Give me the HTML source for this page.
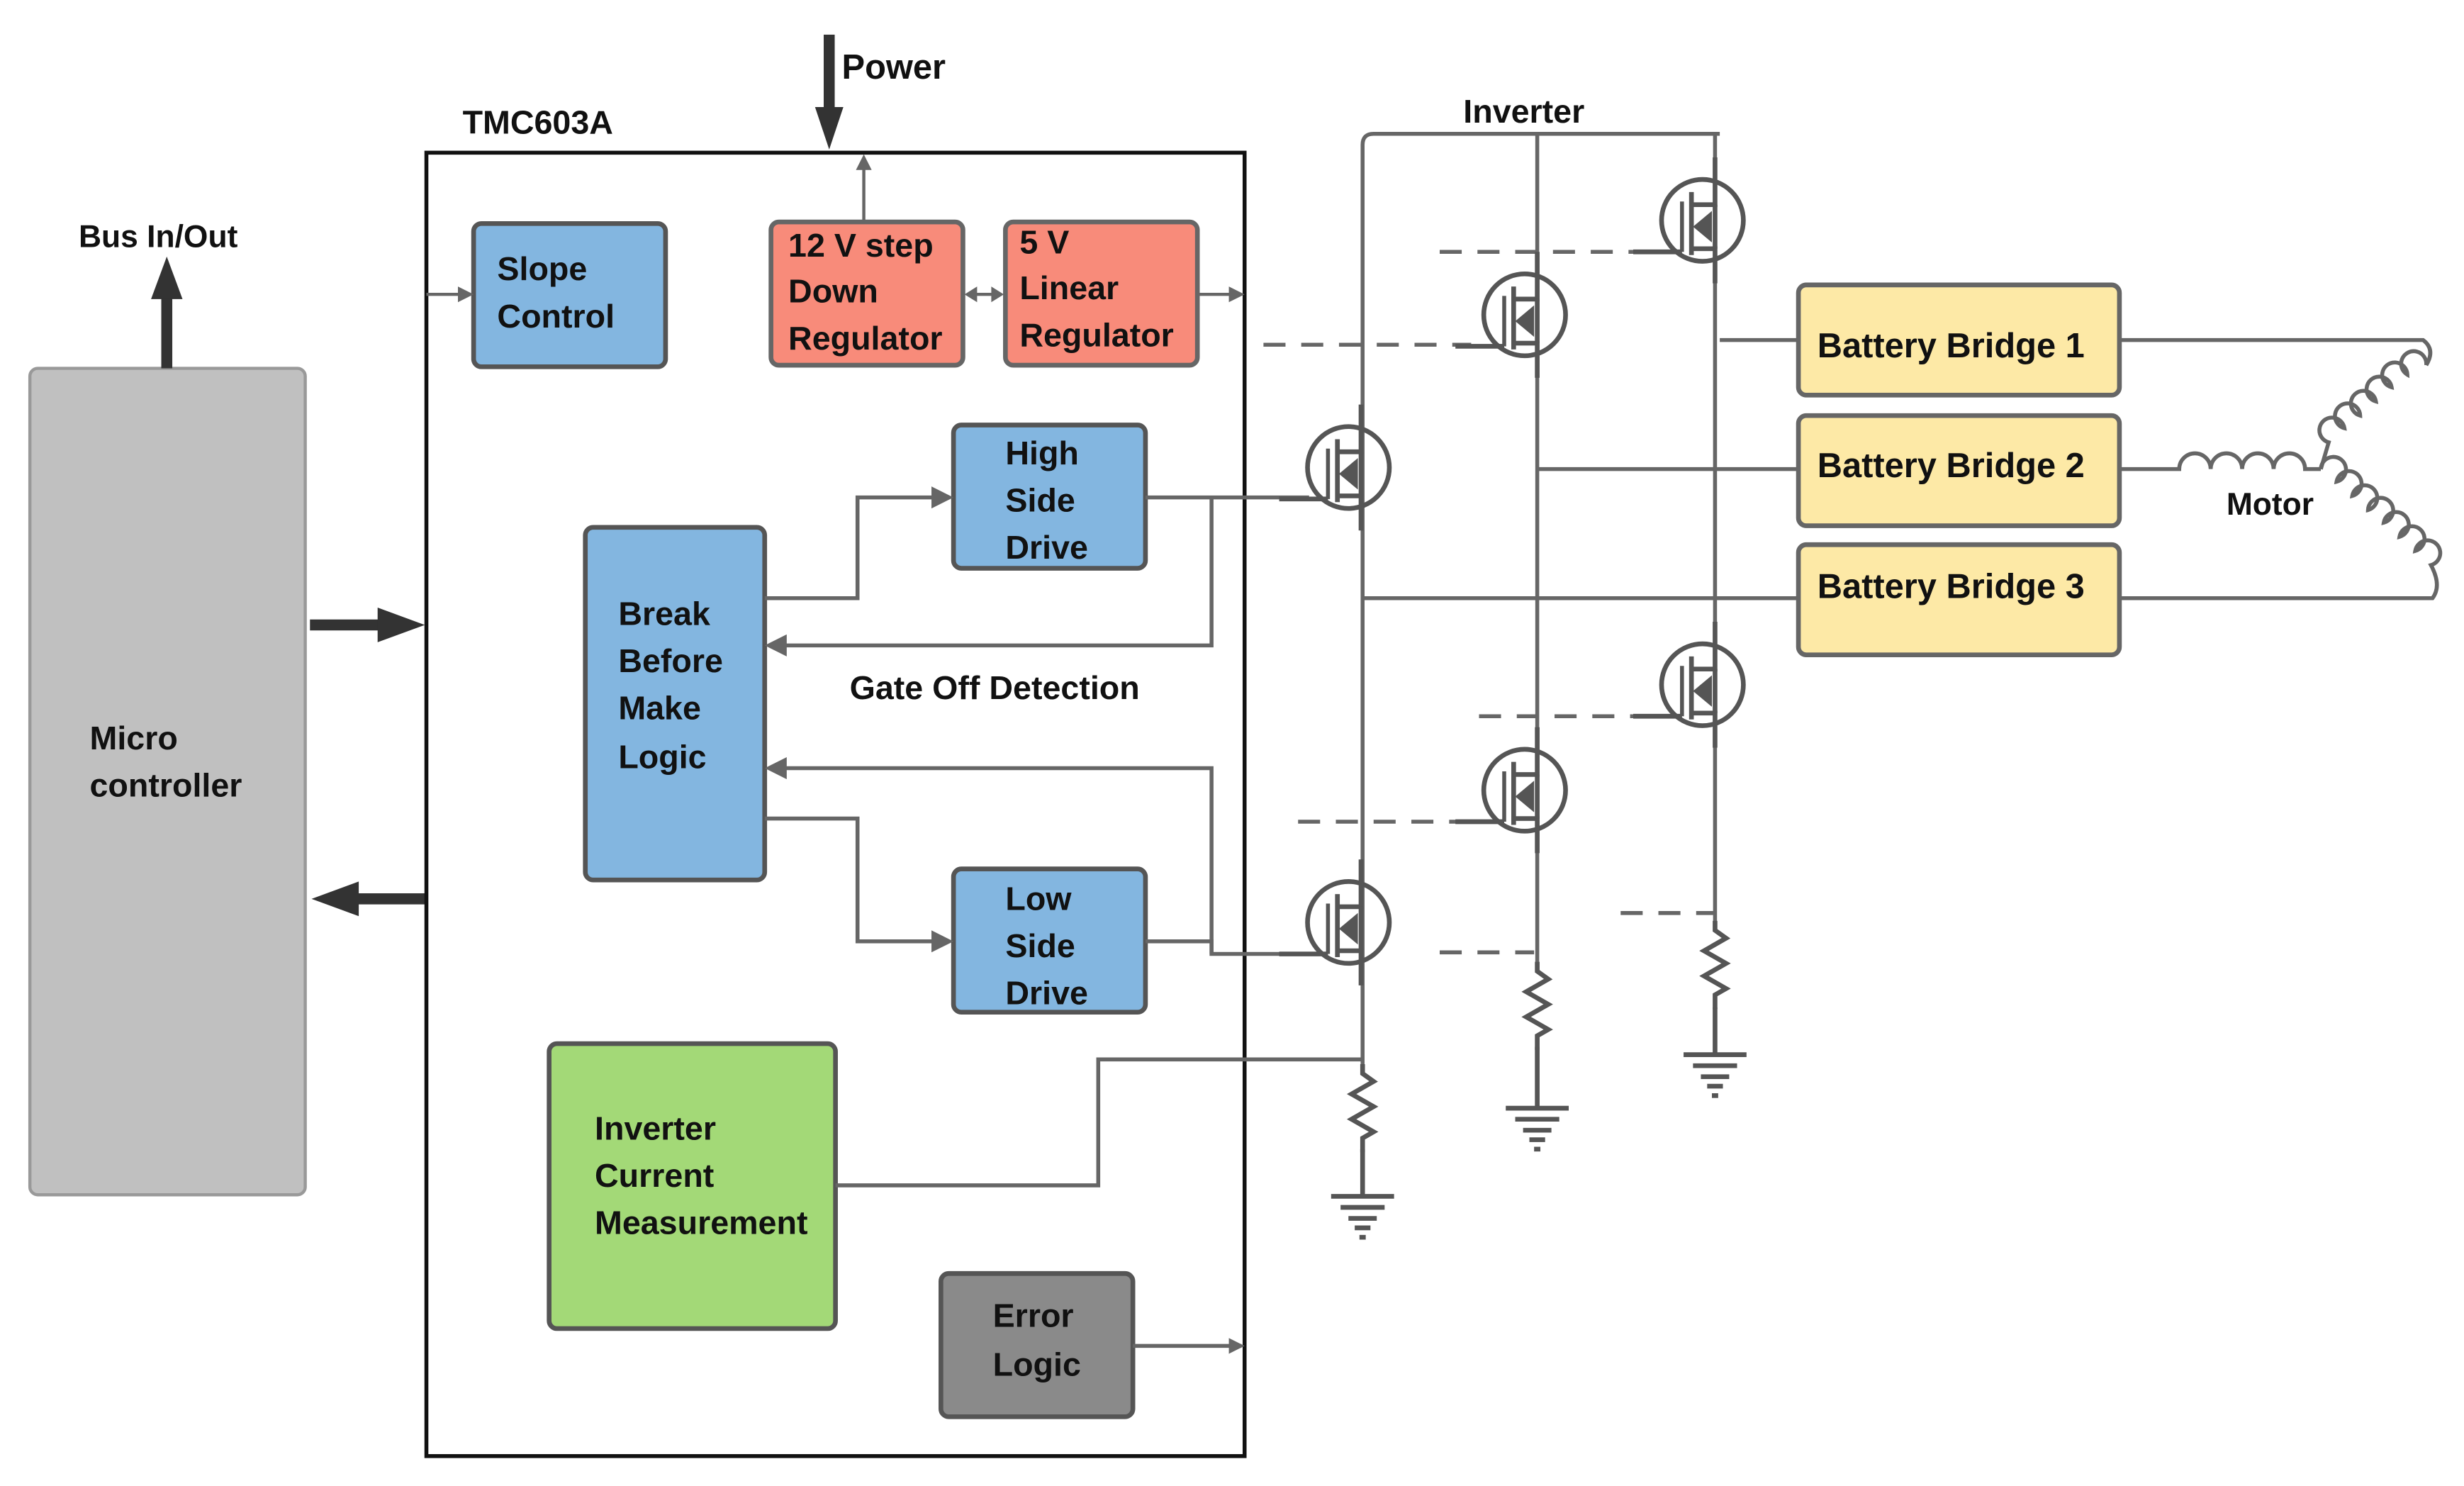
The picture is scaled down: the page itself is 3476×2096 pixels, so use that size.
<!DOCTYPE html>
<html><head><meta charset="utf-8"><style>
html,body{margin:0;padding:0;background:#fff;}
svg{display:block;}
text{font-family:"Liberation Sans",sans-serif;font-weight:bold;fill:#111;}
</style></head><body>
<svg width="3476" height="2096" viewBox="0 0 1566 944" preserveAspectRatio="none" xmlns="http://www.w3.org/2000/svg">
<defs>
<marker id="ah" markerWidth="10" markerHeight="10" refX="8" refY="5" orient="auto" markerUnits="userSpaceOnUse"><path d="M0,0 L10,5 L0,10 z" fill="#666"/></marker>
<marker id="ahb" markerWidth="14" markerHeight="14" refX="10" refY="7" orient="auto" markerUnits="userSpaceOnUse"><path d="M0,0 L14,7 L0,14 z" fill="#666"/></marker>
<g id="fet">
<circle cx="0" cy="0" r="26" fill="none" stroke="#555" stroke-width="3"/>
<line x1="-13" y1="-12" x2="-13" y2="20" stroke="#555" stroke-width="2.5"/>
<line x1="-7" y1="-18" x2="-7" y2="22" stroke="#555" stroke-width="3"/>
<polyline points="-7,-10 8,-10 8,-40" fill="none" stroke="#555" stroke-width="3"/>
<polyline points="-7,18 8,18 8,40" fill="none" stroke="#555" stroke-width="3"/>
<line x1="8" y1="-10" x2="8" y2="18" stroke="#555" stroke-width="3"/>
<polygon points="-6,4 6,-6 6,14" fill="#555"/>
<line x1="-44" y1="20" x2="-13" y2="20" stroke="#555" stroke-width="3"/>
</g>
<g id="res"><polyline points="0,0 0,6 7,11 -7,19 7,27 -7,35 7,43 0,47 0,56" fill="none" stroke="#555" stroke-width="3"/></g>
<g id="gnd" stroke="#555" stroke-width="3"><line x1="-20" y1="0" x2="20" y2="0"/><line x1="-14" y1="7" x2="14" y2="7"/><line x1="-9" y1="14" x2="9" y2="14"/><line x1="-5" y1="20" x2="5" y2="20"/><line x1="-2" y1="26" x2="2" y2="26"/></g>
</defs>

<rect x="19" y="234" width="175" height="525" rx="5" fill="#c0c0c0" stroke="#999" stroke-width="2"/>
<text x="57" y="476" font-size="21">Micro</text>
<text x="57" y="506" font-size="21">controller</text>
<line x1="106" y1="234" x2="106" y2="185" stroke="#333" stroke-width="7"/>
<polygon points="96,190 106,163 116,190" fill="#333"/>
<text x="50" y="157" font-size="20">Bus In/Out</text>
<line x1="197" y1="397" x2="245" y2="397" stroke="#333" stroke-width="7"/>
<polygon points="240,386 270,397 240,408" fill="#333"/>
<line x1="270" y1="571" x2="222" y2="571" stroke="#333" stroke-width="7"/>
<polygon points="228,560 198,571 228,582" fill="#333"/>

<rect x="271" y="97" width="520" height="828" fill="none" stroke="#111" stroke-width="2.5"/>
<text x="294" y="85" font-size="21">TMC603A</text>
<line x1="527" y1="22" x2="527" y2="70" stroke="#333" stroke-width="7"/>
<polygon points="518,68 527,95 536,68" fill="#333"/>
<text x="535" y="50" font-size="22">Power</text>

<rect x="301" y="142" width="122" height="91" rx="5" fill="#83b6e0" stroke="#555" stroke-width="3"/>
<text x="316" y="178" font-size="21">Slope</text><text x="316" y="208" font-size="21">Control</text>
<rect x="490" y="141" width="122" height="91" rx="5" fill="#f88b7a" stroke="#666" stroke-width="3"/>
<text x="501" y="163" font-size="21">12 V step</text><text x="501" y="192" font-size="21">Down</text><text x="501" y="222" font-size="21">Regulator</text>
<rect x="639" y="141" width="122" height="91" rx="5" fill="#f88b7a" stroke="#666" stroke-width="3"/>
<text x="648" y="161" font-size="21">5 V</text><text x="648" y="190" font-size="21">Linear</text><text x="648" y="220" font-size="21">Regulator</text>
<line x1="549" y1="141" x2="549" y2="100" stroke="#666" stroke-width="2" marker-end="url(#ah)"/>
<line x1="271" y1="187" x2="299" y2="187" stroke="#666" stroke-width="2" marker-end="url(#ah)"/>
<line x1="620" y1="187" x2="631" y2="187" stroke="#666" stroke-width="2"/>
<polygon points="613,187 621,182 621,192" fill="#666"/><polygon points="638,187 630,182 630,192" fill="#666"/>
<line x1="761" y1="187" x2="789" y2="187" stroke="#666" stroke-width="2" marker-end="url(#ah)"/>

<rect x="606" y="270" width="122" height="91" rx="5" fill="#83b6e0" stroke="#555" stroke-width="3"/>
<text x="639" y="295" font-size="21">High</text><text x="639" y="325" font-size="21">Side</text><text x="639" y="355" font-size="21">Drive</text>
<rect x="372" y="335" width="114" height="224" rx="5" fill="#83b6e0" stroke="#555" stroke-width="3"/>
<text x="393" y="397" font-size="21">Break</text><text x="393" y="427" font-size="21">Before</text><text x="393" y="457" font-size="21">Make</text><text x="393" y="488" font-size="21">Logic</text>
<rect x="606" y="552" width="122" height="91" rx="5" fill="#83b6e0" stroke="#555" stroke-width="3"/>
<text x="639" y="578" font-size="21">Low</text><text x="639" y="608" font-size="21">Side</text><text x="639" y="638" font-size="21">Drive</text>
<rect x="349" y="663" width="182" height="181" rx="5" fill="#a3d977" stroke="#555" stroke-width="3"/>
<text x="378" y="724" font-size="21">Inverter</text><text x="378" y="754" font-size="21">Current</text><text x="378" y="784" font-size="21">Measurement</text>
<rect x="598" y="809" width="122" height="91" rx="5" fill="#8a8a8a" stroke="#555" stroke-width="3"/>
<text x="631" y="843" font-size="21">Error</text><text x="631" y="874" font-size="21">Logic</text>
<text x="540" y="444" font-size="21">Gate Off Detection</text>

<g fill="none" stroke="#666" stroke-width="2.5">
<path d="M486,380 H545 V316 H602" marker-end="url(#ahb)"/>
<path d="M486,520 H545 V598 H602" marker-end="url(#ahb)"/>
<path d="M728,316 H832"/>
<path d="M770,316 V410 H490" marker-end="url(#ahb)"/>
<path d="M728,598 H770 V606 H832"/>
<path d="M770,606 V488 H490" marker-end="url(#ahb)"/>
<path d="M531,753 H698 V673 H866"/>
<path d="M720,855 H789" marker-end="url(#ah)"/>
</g>

<text x="930" y="78" font-size="21">Inverter</text>
<g fill="none" stroke="#666" stroke-width="2.5">
<path d="M866,680 V92 Q866,85 873,85 H1093"/>
<line x1="977" y1="85" x2="977" y2="615"/>
<line x1="1090" y1="85" x2="1090" y2="590"/>
<line x1="1093" y1="216" x2="1143" y2="216"/>
<line x1="977" y1="298" x2="1143" y2="298"/>
<line x1="866" y1="380" x2="1143" y2="380"/>
</g>
<g fill="none" stroke="#666" stroke-width="2.5" stroke-dasharray="14,10">
<line x1="915" y1="160" x2="1050" y2="160"/>
<line x1="803" y1="219" x2="935" y2="219"/>
<line x1="940" y1="455" x2="1045" y2="455"/>
<line x1="825" y1="522" x2="935" y2="522"/>
<line x1="915" y1="605" x2="975" y2="605"/>
<line x1="1030" y1="580" x2="1090" y2="580"/>
</g>
<use href="#fet" x="1082" y="140"/>
<use href="#fet" x="969" y="200"/>
<use href="#fet" x="857" y="297"/>
<use href="#fet" x="1082" y="435"/>
<use href="#fet" x="969" y="502"/>
<use href="#fet" x="857" y="586"/>
<use href="#res" x="866" y="676"/>
<use href="#res" x="977" y="611"/>
<use href="#res" x="1090" y="585"/>
<line x1="866" y1="730" x2="866" y2="760" stroke="#555" stroke-width="3"/>
<line x1="977" y1="665" x2="977" y2="704" stroke="#555" stroke-width="3"/>
<line x1="1090" y1="640" x2="1090" y2="670" stroke="#555" stroke-width="3"/>
<use href="#gnd" x="866" y="760"/>
<use href="#gnd" x="977" y="704"/>
<use href="#gnd" x="1090" y="670"/>

<rect x="1143" y="181" width="204" height="70" rx="5" fill="#fde9a6" stroke="#666" stroke-width="3"/>
<text x="1155" y="227" font-size="22">Battery Bridge 1</text>
<rect x="1143" y="264" width="204" height="70" rx="5" fill="#fde9a6" stroke="#666" stroke-width="3"/>
<text x="1155" y="303" font-size="22">Battery Bridge 2</text>
<rect x="1143" y="346" width="204" height="70" rx="5" fill="#fde9a6" stroke="#666" stroke-width="3"/>
<text x="1155" y="380" font-size="22">Battery Bridge 3</text>

<g fill="none" stroke="#666" stroke-width="2.5">
<path d="M1347,216 H1540 Q1548,222 1542,232"/>
<path d="M1542,232 a8,8 0 1 0 -12,6 a8,8 0 1 0 -10,8 a8,8 0 1 0 -10,9 a8,8 0 1 0 -10,9 a8,8 0 1 0 -10,8 a8,8 0 1 0 -10,9 L1475,298"/>
<path d="M1347,298 H1385 a10,10 0 1 1 20,0 a10,10 0 1 1 20,0 a10,10 0 1 1 20,0 a10,10 0 1 1 20,0 L1475,298"/>
<path d="M1475,298 a8,8 0 1 1 10,8 a8,8 0 1 1 10,9 a8,8 0 1 1 10,9 a8,8 0 1 1 10,8 a8,8 0 1 1 10,9 a8,8 0 1 1 10,9 a8,8 0 1 1 10,9 Q1552,372 1546,380 H1347"/>
</g>
<text x="1415" y="327" font-size="20">Motor</text>
</svg>
</body></html>
